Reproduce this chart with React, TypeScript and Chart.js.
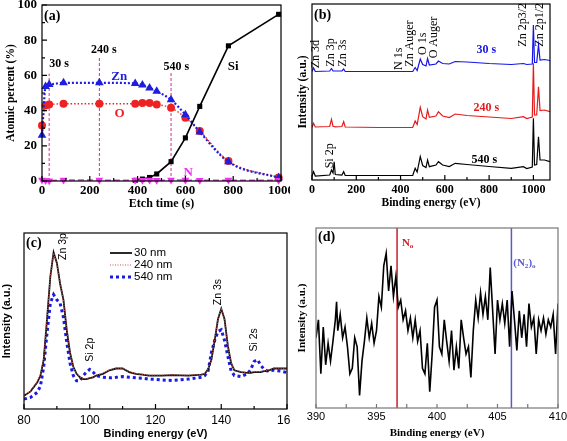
import React, { useEffect, useRef } from "react";
import { Chart, registerables } from "chart.js";
Chart.register(...registerables);

const SERIF = "'Liberation Serif', 'Times New Roman', serif";
const SANS = "'Liberation Sans', Arial, sans-serif";

// ---------- Panel (a): atomic percent vs etch time ----------
const etchTime = [0, 15, 30, 90, 240, 390, 420, 450, 480, 540, 600, 660, 780, 990];
const znPct = [26, 53.7, 54.8, 55.8, 55.8, 55.4, 54.6, 52.9, 51.0, 46.1, 37.7, 27.9, 10.9, 1.8];
const oPct = [31.6, 42.9, 43.5, 43.9, 43.9, 43.9, 44.3, 44.3, 43.5, 41.6, 36.0, 28.4, 11.3, 2.0];
const nPct = [0.6, 0.3, 0.2, 0.5, 0.5, 0.4, 0.4, 0.5, 0.4, 0.5, 0.5, 0.4, 0.5, 0.4];
const siTime = [390, 420, 450, 480, 540, 600, 660, 780, 990];
const siPct = [0.4, 1.1, 2.0, 4.0, 11.0, 24.5, 42.4, 76.8, 94.7];
const etchTicks = [0, 200, 400, 600, 800, 1000];
const etchMinor = [100, 300, 500, 700, 900];
const pctTicks = [0, 20, 40, 60, 80, 100];
const pctMinor = [10, 30, 50, 70, 90];
const markTimes = [30, 240, 540];
const markTops = [61, 71, 62];
const markLabels = ["30 s", "240 s", "540 s"];

// ---------- Panel (b): survey spectra ----------
const surveyBE = [0, 7, 15, 80, 88, 95, 100, 105, 135, 143, 150, 300, 455, 466, 475, 489, 500, 515, 522, 530, 560, 571, 590, 620, 647, 700, 800, 900, 955, 970, 995, 1000, 1005, 1015, 1023, 1030, 1050, 1075];
const survey30 = [108.5, 112, 108.5, 109, 111.5, 109, 109, 109, 109, 111, 108.5, 108.5, 108.5, 112.5, 109.5, 121, 115.5, 114, 121.5, 115, 116, 119, 116.5, 116, 118.5, 118, 116.5, 115.5, 116.5, 115.5, 116, 155, 117.5, 117.5, 135, 120, 120.5, 119.5];
const survey240 = [52.7, 56.7, 53, 53.5, 60.7, 53.5, 53.5, 53.2, 53.5, 58.3, 53, 52.5, 52.5, 59, 55.5, 72.7, 63.3, 61, 70, 62.7, 64, 68.3, 64, 62.5, 66, 64.5, 63, 61.5, 63.3, 61.5, 63, 116.7, 65, 65, 93.3, 69.5, 70, 68.3];
const survey540 = [4, 8.3, 4, 5, 10, 7, 18.3, 5.5, 5, 8.3, 4.5, 4.5, 4.5, 11.7, 8, 23.3, 14.5, 12.5, 20, 13.3, 15, 18.3, 15, 13.5, 16.7, 15.5, 13.5, 11.7, 13.3, 11.5, 13, 61.7, 15, 15.5, 43.3, 20, 20, 18.3];
const surveyTicks = [0, 200, 400, 600, 800, 1000];
const surveyMinor = [100, 300, 500, 700, 900];
const surveyPeakNames = ["Zn 3d", "Zn 3p", "Zn 3s", "N 1s", "Zn Auger", "O 1s", "O Auger", "Zn 2p3/2", "Zn 2p1/2", "Si 2p"];
const surveyPeakAt = [[19, 111.7], [86, 113.3], [140, 113.3], [391, 110], [444, 113.3], [499, 125], [552, 121.7], [952, 133.3], [1031, 133.3], [82, 11.7]];
const surveyTimeNames = ["30 s", "240 s", "540 s"];
const surveyTimeAt = [[787, 130], [787, 72], [778, 20]];

// ---------- Panel (c): Zn 3p / Zn 3s region ----------
const cBE = [80, 82, 84, 85, 86, 87, 88, 89, 90, 91, 92, 93, 94, 95, 96, 97, 98, 99, 100, 101, 102, 104, 106, 108, 110, 112, 114, 116, 118, 120, 122, 125, 130, 134, 135, 136, 137, 138, 139, 140, 141, 142, 143, 144, 146, 148, 149, 150, 151, 152, 153, 154, 156, 158, 160];
const c30 = [7.5, 10, 15, 19, 28, 51, 75, 89, 83, 71, 62, 45, 32, 24, 20, 18, 17, 17, 17.5, 18, 19, 20, 22, 23, 23, 21, 20, 19.5, 19, 19, 19, 19.2, 19, 19.5, 20, 22.5, 28, 39, 51, 57, 51, 36, 26, 22, 21, 20.5, 20.5, 21, 21, 21, 21.5, 21.5, 23, 23, 23];
const c240 = [7.6, 10.2, 15.2, 19.3, 28.5, 51.5, 75.5, 88.5, 82.6, 71.2, 61.7, 45.3, 32.2, 24.2, 20.2, 18.2, 17.3, 17.2, 17.6, 18.2, 19.2, 20.3, 22.2, 23.2, 23.1, 21.2, 20.2, 19.7, 19.2, 19.2, 19.3, 19.4, 19.2, 19.7, 20.2, 22.7, 28.3, 39.4, 51.3, 56.6, 50.6, 36.3, 26.2, 22.2, 21.2, 20.2, 20.8, 21.3, 21.2, 21.3, 21.7, 21.8, 23.2, 23.2, 22.8];
const c540 = [5.6, 6.6, 9.4, 13, 24, 43, 60, 65, 62, 60, 52, 38, 26, 19, 16, 16, 19, 21, 22.5, 21, 19, 18, 17.7, 18, 18.4, 18, 17.7, 17.5, 17, 16.8, 16.5, 16.2, 17, 18, 19, 21.6, 32, 39, 44, 45, 39, 30, 21.6, 19, 18.4, 20, 22.5, 27, 28, 25, 22.5, 21.6, 22, 21.6, 20.7];
const cTicks = [80, 100, 120, 140, 160];
const cMinor = [90, 110, 130, 150];
const cLegend = ["30 nm", "240 nm", "540 nm"];
const cPeakNames = ["Zn 3p", "Si 2p", "Zn 3s", "Si 2s"];
const cPeakAt = [[92, 84.7], [100, 26.9], [139.1, 59], [150, 32.6]];

// ---------- Panel (d): N 1s region ----------
const dBE = [390.0, 390.2, 390.4, 390.6, 390.8, 391.0, 391.2, 391.4, 391.6, 391.7, 391.8, 392.0, 392.2, 392.4, 392.6, 392.8, 393.0, 393.2, 393.4, 393.6, 393.8, 394.0, 394.2, 394.4, 394.6, 394.8, 395.0, 395.2, 395.4, 395.6, 395.8, 396.0, 396.2, 396.4, 396.6, 396.8, 397.0, 397.2, 397.4, 397.6, 397.8, 398.0, 398.2, 398.4, 398.6, 398.8, 399.0, 399.2, 399.4, 399.6, 399.8, 400.0, 400.2, 400.4, 400.6, 400.8, 401.0, 401.2, 401.4, 401.6, 401.8, 402.0, 402.2, 402.4, 402.6, 402.8, 403.0, 403.2, 403.4, 403.6, 403.8, 404.0, 404.2, 404.4, 404.6, 404.8, 405.0, 405.2, 405.4, 405.6, 405.8, 406.0, 406.2, 406.4, 406.6, 406.8, 407.0, 407.2, 407.4, 407.6, 407.8, 408.0, 408.2, 408.4, 408.6, 408.8, 409.0, 409.2, 409.4, 409.6, 409.8, 410.0];
const dInt = [39, 49, 19, 45, 24, 36, 26, 37, 49, 59, 43, 52, 39, 45, 34, 19, 22, 39, 34, 7, 26, 37, 50, 39, 47, 36, 43, 62, 56, 79, 86, 65, 79, 62, 73, 56, 60, 49, 54, 43, 50, 39, 49, 37, 43, 22, 19, 36, 9, 30, 56, 60, 34, 30, 49, 37, 26, 43, 21, 34, 22, 49, 39, 30, 34, 17, 43, 60, 50, 64, 52, 62, 49, 78, 54, 30, 60, 49, 58, 47, 60, 34, 65, 49, 32, 54, 39, 52, 34, 58, 45, 50, 30, 49, 43, 50, 41, 49, 45, 52, 30, 58];
const dTicks = [390, 395, 400, 405, 410];
const dMinor = [392.5, 397.5, 402.5, 407.5];
const dRefLines = [396.7, 406.15];

// ---------- helpers ----------
const pts = (xs: number[], ys: number[]) => xs.map((x, i) => ({ x, y: ys[i] }));

function fixedAxis(size: number, vertical: boolean) {
  return (s: any) => {
    if (vertical) s.width = size;
    else s.height = size;
    s.paddingLeft = 0;
    s.paddingRight = 0;
    s.paddingTop = 0;
    s.paddingBottom = 0;
  };
}
function setTicks(values: number[]) {
  return (s: any) => {
    s.ticks = values.map((v) => ({ value: v }));
  };
}

function axis(o: any) {
  return {
    type: "linear",
    min: o.min,
    max: o.max,
    grid: { display: false, drawTicks: false },
    border: { display: false },
    afterBuildTicks: setTicks(o.ticks || []),
    afterFit: fixedAxis(o.size, o.vertical),
    ticks: {
      display: !!o.ticks,
      callback: (v: any) => String(v),
      font: o.tickFont,
      color: "#000",
      padding: o.tickPad || 0,
      maxRotation: 0,
      autoSkip: false,
    },
    title: {
      display: true,
      text: o.title,
      font: o.titleFont,
      color: "#000",
      padding: o.titlePad,
    },
  };
}

function framePlugin(f: any) {
  return {
    id: "frame",
    afterDraw(chart: any) {
      const { ctx, chartArea: a, scales } = chart;
      const xs = scales.x;
      const ys = scales.y;
      ctx.save();
      ctx.strokeStyle = f.color;
      ctx.lineWidth = f.width;
      ctx.setLineDash([]);
      ctx.strokeRect(a.left, a.top, a.right - a.left, a.bottom - a.top);
      ctx.beginPath();
      const tx = (v: number, len: number) => {
        const p = xs.getPixelForValue(v);
        ctx.moveTo(p, a.bottom);
        ctx.lineTo(p, a.bottom - len);
      };
      const ty = (v: number, len: number) => {
        const p = ys.getPixelForValue(v);
        ctx.moveTo(a.left, p);
        ctx.lineTo(a.left + len, p);
      };
      (f.xMajor || []).forEach((v: number) => tx(v, f.major));
      (f.xMinor || []).forEach((v: number) => tx(v, f.minor));
      (f.yMajor || []).forEach((v: number) => ty(v, f.major));
      (f.yMinor || []).forEach((v: number) => ty(v, f.minor));
      ctx.stroke();
      ctx.restore();
    },
  };
}

function drawText(ctx: any, s: string, x: number, y: number, font: string, color: string, align = "center", rotate = false) {
  ctx.save();
  ctx.font = font;
  ctx.fillStyle = color;
  ctx.textBaseline = "middle";
  if (rotate) {
    ctx.translate(x, y);
    ctx.rotate(-Math.PI / 2);
    ctx.textAlign = "left";
    ctx.fillText(s, 0, 0);
  } else {
    ctx.textAlign = align;
    ctx.fillText(s, x, y);
  }
  ctx.restore();
}

function drawSubText(ctx: any, parts: [string, boolean][], x: number, y: number, size: number, color: string) {
  ctx.save();
  ctx.fillStyle = color;
  ctx.textBaseline = "middle";
  ctx.textAlign = "left";
  let cx = x;
  for (const [t, sub] of parts) {
    ctx.font = `bold ${sub ? size * 0.65 : size}px ${SERIF}`;
    ctx.fillText(t, cx, sub ? y + size * 0.32 : y);
    cx += ctx.measureText(t).width;
  }
  ctx.restore();
}

const common = {
  responsive: false,
  animation: false,
  events: [],
  plugins: { legend: { display: false }, tooltip: { enabled: false } },
};

// ---------- colours ----------
const BLUE_A = "#1e1ee0";
const RED_A = "#ee2222";
const MAG = "#f032f0";
const MARK = "#d0308a";

function configA() {
  const annot = {
    id: "annotA",
    beforeDatasetsDraw(chart: any) {
      const { ctx, scales: { x, y } } = chart;
      ctx.save();
      ctx.strokeStyle = MARK;
      ctx.lineWidth = 1;
      ctx.setLineDash([3, 2]);
      markTimes.forEach((t, i) => {
        const px = x.getPixelForValue(t);
        ctx.beginPath();
        ctx.moveTo(px, y.getPixelForValue(0));
        ctx.lineTo(px, y.getPixelForValue(markTops[i]));
        ctx.stroke();
      });
      ctx.restore();
    },
    afterDraw(chart: any) {
      const { ctx, chartArea: a, scales: { x, y } } = chart;
      const pos = [[72, 66.5], [259, 74.4], [562, 64.6]];
      markLabels.forEach((s, i) => drawText(ctx, s, x.getPixelForValue(pos[i][0]), y.getPixelForValue(pos[i][1]), `bold 12px ${SERIF}`, "#000"));
      const names = [["Zn", 323, 59.3, BLUE_A], ["O", 325, 38.2, RED_A], ["Si", 800, 65, "#000"], ["N", 612, 4.7, MAG]];
      names.forEach((n: any) => drawText(ctx, n[0], x.getPixelForValue(n[1]), y.getPixelForValue(n[2]), `bold 13px ${SERIF}`, n[3]));
      drawText(ctx, "(a)", a.left + 2, a.top + 11, `bold 14px ${SERIF}`, "#000", "left");
    },
  };
  return {
    type: "line",
    data: {
      datasets: [
        { label: "N", data: pts(etchTime, nPct), clip: 8, borderColor: MAG, backgroundColor: MAG, borderDash: [6, 3], borderWidth: 1.5, pointStyle: "triangle", pointRotation: 180, pointRadius: 4.5, pointBorderWidth: 0 },
        { label: "Si", data: pts(siTime, siPct), clip: 8, borderColor: "#000", backgroundColor: "#000", borderWidth: 1.6, pointStyle: "rect", pointRadius: 3.6, pointBorderWidth: 0 },
        { label: "Zn", data: pts(etchTime, znPct), clip: 8, borderColor: BLUE_A, backgroundColor: BLUE_A, borderDash: [2, 2], borderWidth: 2.2, pointStyle: "triangle", pointRadius: 5, pointBorderWidth: 0, cubicInterpolationMode: "monotone" },
        { label: "O", data: pts(etchTime, oPct), clip: 8, borderColor: RED_A, backgroundColor: RED_A, borderDash: [1.5, 2], borderWidth: 1.4, pointStyle: "circle", pointRadius: 4, pointBorderWidth: 0, cubicInterpolationMode: "monotone" },
      ],
    },
    options: {
      ...common,
      layout: { padding: { left: 0, top: 4, right: 9, bottom: 0 } },
      scales: {
        x: axis({ min: 0, max: 1000, ticks: etchTicks, size: 39, vertical: false, tickFont: { family: SERIF, size: 13, weight: "bold" }, tickPad: 2, title: "Etch time (s)", titleFont: { family: SERIF, size: 12, weight: "bold" }, titlePad: { top: 0, bottom: 9 } }),
        y: axis({ min: 0, max: 100, ticks: pctTicks, size: 42, vertical: true, tickFont: { family: SERIF, size: 13, weight: "bold" }, tickPad: 5, title: "Atomic percent (%)", titleFont: { family: SERIF, size: 11.5, weight: "bold" }, titlePad: { top: 4, bottom: 0 } }),
      },
    },
    plugins: [annot, framePlugin({ xMajor: etchTicks, xMinor: etchMinor, yMajor: pctTicks, yMinor: pctMinor, color: "#000", width: 1.2, major: 5, minor: 3 })],
  };
}

const BLUE_B = "#1515e6";
const RED_B = "#e61c1c";

function configB() {
  const annot = {
    id: "annotB",
    afterDraw(chart: any) {
      const { ctx, chartArea: a, scales: { x, y } } = chart;
      surveyPeakNames.forEach((s, i) => drawText(ctx, s, x.getPixelForValue(surveyPeakAt[i][0]), y.getPixelForValue(surveyPeakAt[i][1]), `12px ${SERIF}`, "#000", "left", true));
      const cols = [BLUE_B, RED_B, "#000"];
      surveyTimeNames.forEach((s, i) => drawText(ctx, s, x.getPixelForValue(surveyTimeAt[i][0]), y.getPixelForValue(surveyTimeAt[i][1]), `bold 12px ${SERIF}`, cols[i]));
      drawText(ctx, "(b)", a.left + 2, a.top + 11, `bold 14px ${SERIF}`, "#000", "left");
    },
  };
  const ds = (label: string, ys: number[], c: string) => ({ label, data: pts(surveyBE, ys), borderColor: c, borderWidth: 1.2, pointRadius: 0 });
  return {
    type: "line",
    data: { datasets: [ds("30 s", survey30, BLUE_B), ds("240 s", survey240, RED_B), ds("540 s", survey540, "#000")] },
    options: {
      ...common,
      layout: { padding: { left: 0, top: 4, right: 17, bottom: 0 } },
      scales: {
        x: axis({ min: 0, max: 1075, ticks: surveyTicks, size: 40, vertical: false, tickFont: { family: SERIF, size: 12, weight: "bold" }, tickPad: 3, title: "Binding energy (eV)", titleFont: { family: SERIF, size: 11.5, weight: "bold" }, titlePad: { top: 0, bottom: 10 } }),
        y: axis({ min: 0, max: 176, ticks: null, size: 22, vertical: true, title: "Intensity (a.u.)", titleFont: { family: SERIF, size: 11.7, weight: "bold" }, titlePad: { top: 6, bottom: 0 } }),
      },
    },
    plugins: [annot, framePlugin({ xMajor: surveyTicks, xMinor: surveyMinor, color: "#000", width: 1.2, major: 5, minor: 3 })],
  };
}

const BLUE_C = "#1a1ae6";
const RED_C = "#d05050";

function configC() {
  const styles: any = {
    "30 nm": { color: "#111", dash: [], width: 1.8 },
    "240 nm": { color: RED_C, dash: [1, 1.5], width: 1.2 },
    "540 nm": { color: BLUE_C, dash: [3, 3], width: 3 },
  };
  const annot = {
    id: "annotC",
    afterDraw(chart: any) {
      const { ctx, chartArea: a, scales: { x, y } } = chart;
      cPeakNames.forEach((s, i) => drawText(ctx, s, x.getPixelForValue(cPeakAt[i][0]), y.getPixelForValue(cPeakAt[i][1]), `10.5px ${SANS}`, "#000", "left", true));
      cLegend.forEach((s, i) => {
        const st = styles[s];
        const ly = a.top + 20 + i * 12;
        ctx.save();
        ctx.strokeStyle = st.color;
        ctx.lineWidth = st.width;
        ctx.setLineDash(st.dash);
        ctx.beginPath();
        ctx.moveTo(110, ly);
        ctx.lineTo(132, ly);
        ctx.stroke();
        ctx.restore();
        drawText(ctx, s, 134, ly, `11.5px ${SANS}`, "#000", "left");
      });
      drawText(ctx, "(c)", a.left + 2, a.top + 10, `bold 14px ${SERIF}`, "#000", "left");
    },
  };
  const ds = (label: string, ys: number[]) => ({ label, data: pts(cBE, ys), borderColor: styles[label].color, borderDash: styles[label].dash, borderWidth: styles[label].width, pointRadius: 0 });
  return {
    type: "line",
    data: { datasets: [ds("240 nm", c240), ds("30 nm", c30), ds("540 nm", c540)] },
    options: {
      ...common,
      layout: { padding: { left: 0, top: 13, right: 3, bottom: 0 } },
      scales: {
        x: axis({ min: 80, max: 160, ticks: cTicks, size: 32, vertical: false, tickFont: { family: SANS, size: 12 }, tickPad: 4, title: "Binding energy (eV)", titleFont: { family: SANS, size: 11, weight: "bold" }, titlePad: { top: 0, bottom: 0 } }),
        y: axis({ min: 0, max: 100, ticks: null, size: 24, vertical: true, title: "Intensity (a.u.)", titleFont: { family: SANS, size: 11, weight: "bold" }, titlePad: { top: 0, bottom: 0 } }),
      },
    },
    plugins: [annot, framePlugin({ xMajor: cTicks, xMinor: cMinor, color: "#000", width: 1.2, major: 5, minor: 3 })],
  };
}

const RED_D = "#c8202a";
const BLUE_D = "#5a5ad0";

function configD() {
  const annot = {
    id: "annotD",
    beforeDatasetsDraw(chart: any) {
      const { ctx, chartArea: a, scales: { x } } = chart;
      const cols = [RED_D, BLUE_D];
      dRefLines.forEach((v, i) => {
        const px = x.getPixelForValue(v);
        ctx.save();
        ctx.strokeStyle = cols[i];
        ctx.lineWidth = 1.5;
        ctx.beginPath();
        ctx.moveTo(px, a.top);
        ctx.lineTo(px, a.bottom);
        ctx.stroke();
        ctx.restore();
      });
    },
    afterDraw(chart: any) {
      const { ctx, chartArea: a, scales: { x, y } } = chart;
      drawSubText(ctx, [["N", false], ["o", true]], x.getPixelForValue(397.1), y.getPixelForValue(91.7), 11, RED_D);
      drawSubText(ctx, [["(N", false], ["2", true], [")", false], ["o", true]], x.getPixelForValue(406.3), y.getPixelForValue(80.6), 11, BLUE_D);
      drawText(ctx, "(d)", a.left + 2, a.top + 9, `bold 14px ${SERIF}`, "#000", "left");
    },
  };
  return {
    type: "line",
    data: { datasets: [{ label: "N 1s", data: pts(dBE, dInt), borderColor: "#000", borderWidth: 1.6, pointRadius: 0 }] },
    options: {
      ...common,
      layout: { padding: { left: 0, top: 8, right: 9, bottom: 0 } },
      scales: {
        x: axis({ min: 390, max: 410, ticks: dTicks, size: 33, vertical: false, tickFont: { family: SANS, size: 11 }, tickPad: 2, title: "Binding energy (eV)", titleFont: { family: SERIF, size: 11, weight: "bold" }, titlePad: { top: 0, bottom: 1.5 } }),
        y: axis({ min: 0, max: 100, ticks: null, size: 26, vertical: true, title: "Intensity (a.u.)", titleFont: { family: SERIF, size: 11, weight: "bold" }, titlePad: { top: 6, bottom: 0 } }),
      },
    },
    plugins: [annot, framePlugin({ xMajor: dTicks, xMinor: dMinor, color: "#777", width: 1.2, major: 4, minor: 4 })],
  };
}

function Panel({ left, top, width, height, build }: { left: number; top: number; width: number; height: number; build: () => any }) {
  const ref = useRef<HTMLCanvasElement>(null);
  useEffect(() => {
    const chart = new Chart(ref.current as HTMLCanvasElement, build());
    return () => chart.destroy();
  }, []);
  return <canvas ref={ref} width={width} height={height} style={{ position: "absolute", left, top, width, height }} />;
}

export default function App() {
  return (
    <div style={{ position: "absolute", left: 0, top: 0, width: 567, height: 441, background: "#fff", overflow: "hidden" }}>
      <Panel left={0} top={0} width={290} height={220} build={configA} />
      <Panel left={290} top={0} width={277} height={220} build={configB} />
      <Panel left={0} top={220} width={290} height={221} build={configC} />
      <Panel left={290} top={220} width={277} height={221} build={configD} />
    </div>
  );
}
